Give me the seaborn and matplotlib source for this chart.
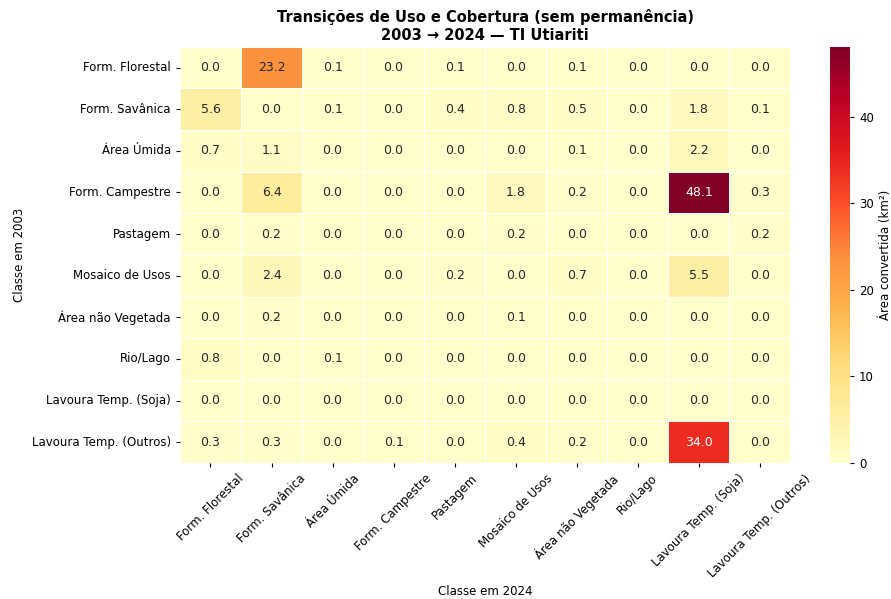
import matplotlib
matplotlib.use("Agg")
import matplotlib.pyplot as plt
import seaborn as sns
import numpy as np
import pandas as pd

classes = ['Form. Florestal', 'Form. Savânica', 'Área Úmida', 'Form. Campestre',
           'Pastagem', 'Mosaico de Usos', 'Área não Vegetada', 'Rio/Lago',
           'Lavoura Temp. (Soja)', 'Lavoura Temp. (Outros)']

# area converted (km²), rows = class in 2003, cols = class in 2024
row_florestal = [0.0, 23.2, 0.1, 0.0, 0.1, 0.0, 0.1, 0.0, 0.0, 0.0]
row_savanica = [5.6, 0.0, 0.1, 0.0, 0.4, 0.8, 0.5, 0.0, 1.8, 0.1]
row_umida = [0.7, 1.1, 0.0, 0.0, 0.0, 0.0, 0.1, 0.0, 2.2, 0.0]
row_campestre = [0.0, 6.4, 0.0, 0.0, 0.0, 1.8, 0.2, 0.0, 48.1, 0.3]
row_pastagem = [0.0, 0.2, 0.0, 0.0, 0.0, 0.2, 0.0, 0.0, 0.0, 0.2]
row_mosaico = [0.0, 2.4, 0.0, 0.0, 0.2, 0.0, 0.7, 0.0, 5.5, 0.0]
row_naoveg = [0.0, 0.2, 0.0, 0.0, 0.0, 0.1, 0.0, 0.0, 0.0, 0.0]
row_rio = [0.8, 0.0, 0.1, 0.0, 0.0, 0.0, 0.0, 0.0, 0.0, 0.0]
row_soja = [0.0, 0.0, 0.0, 0.0, 0.0, 0.0, 0.0, 0.0, 0.0, 0.0]
row_outros = [0.3, 0.3, 0.0, 0.1, 0.0, 0.4, 0.2, 0.0, 34.0, 0.0]

matrix = pd.DataFrame([row_florestal, row_savanica, row_umida, row_campestre,
                       row_pastagem, row_mosaico, row_naoveg, row_rio,
                       row_soja, row_outros],
                      index=classes, columns=classes)

plt.rcParams['font.family'] = ['DejaVu Sans']

fig = plt.figure(figsize=(8.91, 5.99), dpi=100)
ax = fig.add_axes([0.202, 0.227, 0.685, 0.695])
cax = fig.add_axes([0.932, 0.227, 0.022, 0.695])

sns.heatmap(matrix, ax=ax, cbar_ax=cax, cmap='YlOrRd', annot=True, fmt='.1f',
            linewidths=0.5, linecolor='white',
            annot_kws={'fontsize': 9},
            cbar_kws={'label': 'Área convertida (km²)'})

ax.set_title('Transições de Uso e Cobertura (sem permanência)\n2003 → 2024 — TI Utiariti',
             fontsize=10.5, fontweight='bold', pad=5)
ax.set_xlabel('Classe em 2024', fontsize=8.5)
ax.set_ylabel('Classe em 2003', fontsize=8.5)
ax.tick_params(axis='both', labelsize=8.5, length=3)
plt.setp(ax.get_xticklabels(), rotation=45, ha='center')
plt.setp(ax.get_yticklabels(), rotation=0)
cax.tick_params(labelsize=8.5, length=3)
cax.yaxis.label.set_size(8.5)
for spine in cax.spines.values():
    spine.set_visible(False)

fig.savefig('out.png', dpi=100)
